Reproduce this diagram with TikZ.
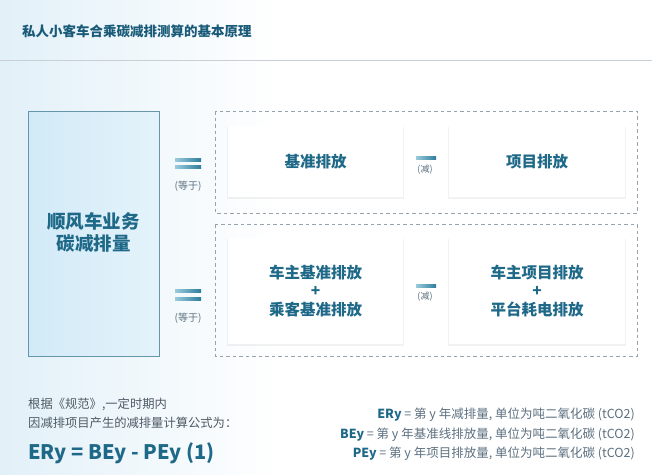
\documentclass[tikz,border=0pt]{standalone}
\usepackage{fontspec}
\setmainfont{Noto Sans CJK SC}
\usetikzlibrary{shadows}
\definecolor{bgL}{HTML}{E2F0F8}
\definecolor{titleC}{HTML}{195A78}
\definecolor{tealC}{HTML}{1E6888}
\definecolor{grayT}{HTML}{4E5A64}
\definecolor{grayB}{HTML}{5C7080}
\definecolor{lineC}{HTML}{C9D0D5}
\definecolor{dashC}{HTML}{96A3AC}
\definecolor{lbFillL}{HTML}{D2EAF7}
\definecolor{lbFillR}{HTML}{E4F3FB}
\definecolor{lbBorder}{HTML}{6696AC}
\definecolor{barL}{HTML}{9ACBDD}
\definecolor{barR}{HTML}{2F7C9C}
\tikzset{
  whitebox/.style={draw=none, fill=white, drop shadow={opacity=0.10, shadow xshift=0pt, shadow yshift=-1.2pt, shadow scale=1.01}},
  dashbox/.style={draw=dashC, line width=0.8pt, dash pattern=on 3.5pt off 3pt},
  boxtext/.style={text=tealC, font=\bfseries\fontsize{15.5}{18.5}\selectfont, align=center},
  smalllabel/.style={text=grayB, font=\fontsize{10}{12}\selectfont},
  bar/.style={left color=barL, right color=barR, draw=none},
}
\begin{document}
\begin{tikzpicture}[x=1pt,y=-1pt]
\useasboundingbox (0,0) rectangle (652,474);
% background
\fill[white] (0,0) rectangle (652,474);
\shade[left color=bgL, right color=white, draw=none] (0,0) rectangle (280,474);
% title
\node[anchor=west, text=titleC, font=\bfseries\fontsize{13.5}{16}\selectfont, inner sep=0pt] (title) at (22,31) {私人小客车合乘碳减排测算的基本原理};
\draw[lineC, line width=0.8pt] (0,60) -- (652,60);
% left box
\shade[left color=lbFillL, right color=lbFillR] (28,111) rectangle (159,356);
\node[draw=lbBorder, line width=0.9pt, minimum width=131pt, minimum height=245pt, inner sep=0pt] (left) at (93.5,233.5) {};
\node[text=tealC, font=\bfseries\fontsize{18.5}{22}\selectfont, align=center] (lefttext) at (93.5,232) {顺风车业务\\碳减排量};
% dashed groups
\draw[dashbox] (215,111) rectangle (637,213);
\draw[dashbox] (215,224) rectangle (637,356);
% white boxes
\node[whitebox, minimum width=175pt, minimum height=71pt] (b1) at (315.5,161.5) {};
\node[whitebox, minimum width=176pt, minimum height=71pt] (p1) at (537,161.5) {};
\node[whitebox, minimum width=175pt, minimum height=106pt] (b2) at (315.5,291) {};
\node[whitebox, minimum width=176pt, minimum height=106pt] (p2) at (537,291) {};
\node[boxtext] at (b1) {基准排放};
\node[boxtext] at (p1) {项目排放};
\node[boxtext] at (b2) {车主基准排放\\+\\乘客基准排放};
\node[boxtext] at (p2) {车主项目排放\\+\\平台耗电排放};
% equal signs
\shade[bar] (175,158) rectangle (201,161);
\shade[bar] (175,165.5) rectangle (201,168.5);
\node[smalllabel] (eq1) at (188,186) {(等于)};
\shade[bar] (175,289.5) rectangle (201,292.5);
\shade[bar] (175,297) rectangle (201,300);
\node[smalllabel] (eq2) at (188,318) {(等于)};
% minus signs
\shade[bar] (416,156.5) rectangle (436,159);
\node[smalllabel, font=\fontsize{9}{11}\selectfont] (m1) at (425,170) {(减)};
\shade[bar] (416,284.5) rectangle (436,287);
\node[smalllabel, font=\fontsize{9}{11}\selectfont] (m2) at (425,297) {(减)};
% bottom left text
\node[anchor=west, text=grayT, font=\fontsize{12.3}{15}\selectfont, inner sep=0pt] (t1) at (28,404) {根据《规范》,一定时期内};
\node[anchor=west, text=grayT, font=\fontsize{12.3}{15}\selectfont, inner sep=0pt] (t2) at (28,423) {因减排项目产生的减排量计算公式为：};
\node[anchor=west, text=tealC, font=\bfseries\fontsize{20}{24}\selectfont, inner sep=0pt] (formula) at (28,453) {ERy = BEy - PEy (1)};
% right definitions
\node[anchor=east, text=grayB, font=\fontsize{12.5}{15}\selectfont, inner sep=0pt] (d1) at (635,415) {\textcolor{tealC}{\bfseries ERy} = 第 y 年减排量, 单位为吨二氧化碳 (tCO2)};
\node[anchor=east, text=grayB, font=\fontsize{12.5}{15}\selectfont, inner sep=0pt] (d2) at (635,434.5) {\textcolor{tealC}{\bfseries BEy} = 第 y 年基准线排放量, 单位为吨二氧化碳 (tCO2)};
\node[anchor=east, text=grayB, font=\fontsize{12.5}{15}\selectfont, inner sep=0pt] (d3) at (635,454) {\textcolor{tealC}{\bfseries PEy} = 第 y 年项目排放量, 单位为吨二氧化碳 (tCO2)};
\end{tikzpicture}
\end{document}
